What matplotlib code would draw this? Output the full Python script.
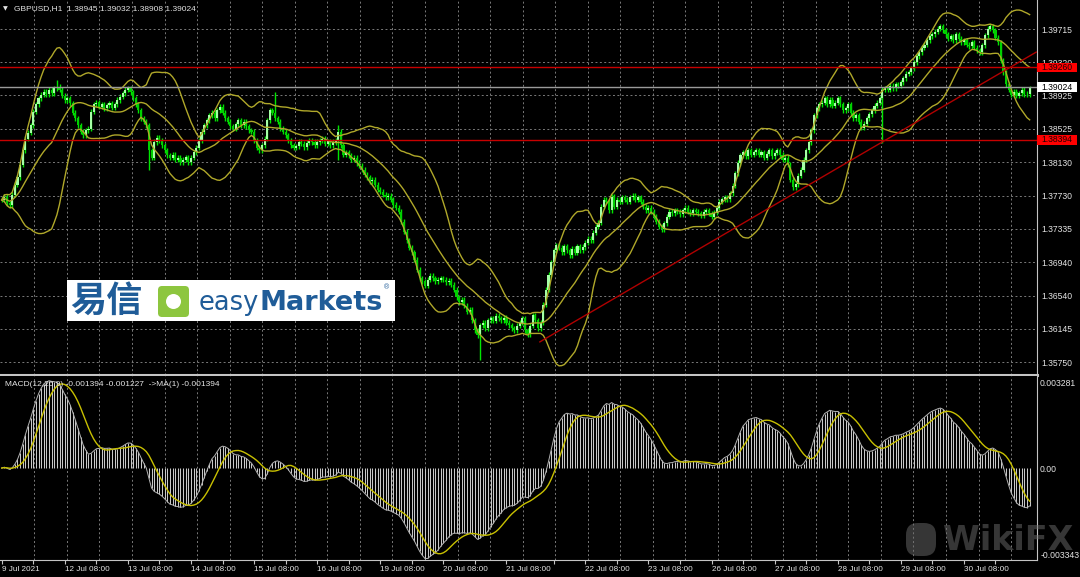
import numpy as np
import pandas as pd
import matplotlib
matplotlib.use('Agg')
import matplotlib.pyplot as plt
from matplotlib.patches import Rectangle, FancyBboxPatch, Circle
from matplotlib.transforms import blended_transform_factory

plt.rcParams['font.family'] = ['Liberation Sans', 'DejaVu Sans']

# GBPUSD H1 closes, one per bar (9 Jul -> 30 Jul 2021)
closes = [
    1.3768, 1.3772, 1.3764, 1.3762, 1.3774, 1.3786, 1.3795, 1.3810, 1.3827, 1.3841, 1.3848, 1.3857,
    1.3873, 1.3882, 1.3889, 1.3893, 1.3897, 1.3894, 1.3899, 1.3895, 1.3901, 1.3903, 1.3899, 1.3892,
    1.3887, 1.3889, 1.3883, 1.3872, 1.3865, 1.3857, 1.3849, 1.3845, 1.3851, 1.3853, 1.3873, 1.3882,
    1.3884, 1.3879, 1.3882, 1.3877, 1.3881, 1.3883, 1.3878, 1.3882, 1.3887, 1.3891, 1.3895, 1.3899,
    1.3901, 1.3896, 1.3889, 1.3882, 1.3875, 1.3865, 1.3861, 1.3857, 1.3827, 1.3818, 1.3837, 1.3842,
    1.3839, 1.3833, 1.3827, 1.3821, 1.3818, 1.3822, 1.3816, 1.3818, 1.3813, 1.3816, 1.3819, 1.3813,
    1.3818, 1.3825, 1.3830, 1.3839, 1.3849, 1.3857, 1.3863, 1.3869, 1.3872, 1.3865, 1.3875, 1.3879,
    1.3872, 1.3865, 1.3861, 1.3856, 1.3853, 1.3858, 1.3863, 1.3857, 1.3861, 1.3856, 1.3851, 1.3849,
    1.3839, 1.3830, 1.3827, 1.3833, 1.3841, 1.3863, 1.3875, 1.3872, 1.3865, 1.3861, 1.3853, 1.3849,
    1.3845, 1.3839, 1.3833, 1.3830, 1.3832, 1.3837, 1.3835, 1.3831, 1.3836, 1.3839, 1.3837, 1.3833,
    1.3837, 1.3839, 1.3841, 1.3835, 1.3838, 1.3833, 1.3837, 1.3839, 1.3849, 1.3833, 1.3822, 1.3825,
    1.3821, 1.3816, 1.3818, 1.3812, 1.3809, 1.3804, 1.3798, 1.3795, 1.3790, 1.3792, 1.3786, 1.3780,
    1.3778, 1.3774, 1.3771, 1.3773, 1.3768, 1.3762, 1.3759, 1.3754, 1.3742, 1.3730, 1.3720, 1.3711,
    1.3706, 1.3697, 1.3685, 1.3675, 1.3671, 1.3666, 1.3673, 1.3678, 1.3675, 1.3671, 1.3673, 1.3675,
    1.3673, 1.3670, 1.3672, 1.3667, 1.3661, 1.3652, 1.3646, 1.3649, 1.3642, 1.3635, 1.3637, 1.3625,
    1.3613, 1.3607, 1.3619, 1.3622, 1.3615, 1.3625, 1.3627, 1.3624, 1.3630, 1.3627, 1.3625, 1.3628,
    1.3622, 1.3619, 1.3615, 1.3613, 1.3618, 1.3622, 1.3627, 1.3613, 1.3608, 1.3618, 1.3631, 1.3625,
    1.3615, 1.3622, 1.3643, 1.3661, 1.3679, 1.3694, 1.3708, 1.3714, 1.3711, 1.3706, 1.3713, 1.3708,
    1.3702, 1.3710, 1.3705, 1.3713, 1.3708, 1.3712, 1.3717, 1.3722, 1.3720, 1.3729, 1.3736, 1.3741,
    1.3760, 1.3768, 1.3766, 1.3756, 1.3772, 1.3760, 1.3768, 1.3766, 1.3771, 1.3768, 1.3766, 1.3771,
    1.3773, 1.3768, 1.3771, 1.3766, 1.3760, 1.3756, 1.3759, 1.3754, 1.3748, 1.3742, 1.3736, 1.3733,
    1.3740, 1.3748, 1.3754, 1.3752, 1.3756, 1.3754, 1.3751, 1.3756, 1.3759, 1.3754, 1.3752, 1.3756,
    1.3754, 1.3752, 1.3749, 1.3754, 1.3756, 1.3752, 1.3748, 1.3753, 1.3759, 1.3766, 1.3769, 1.3771,
    1.3769, 1.3776, 1.3785, 1.3800, 1.3812, 1.3821, 1.3825, 1.3820, 1.3827, 1.3822, 1.3825, 1.3827,
    1.3822, 1.3825, 1.3818, 1.3823, 1.3827, 1.3820, 1.3824, 1.3827, 1.3822, 1.3816, 1.3818, 1.3810,
    1.3792, 1.3783, 1.3787, 1.3797, 1.3804, 1.3816, 1.3827, 1.3837, 1.3851, 1.3869, 1.3877, 1.3882,
    1.3884, 1.3889, 1.3882, 1.3887, 1.3880, 1.3884, 1.3889, 1.3882, 1.3875, 1.3877, 1.3882, 1.3872,
    1.3865, 1.3869, 1.3861, 1.3854, 1.3859, 1.3865, 1.3870, 1.3875, 1.3880, 1.3884, 1.3889, 1.3899,
    1.3901, 1.3899, 1.3904, 1.3901, 1.3906, 1.3904, 1.3908, 1.3913, 1.3918, 1.3920, 1.3925, 1.3932,
    1.3939, 1.3944, 1.3949, 1.3953, 1.3958, 1.3963, 1.3965, 1.3968, 1.3972, 1.3975, 1.3970, 1.3965,
    1.3960, 1.3963, 1.3958, 1.3965, 1.3960, 1.3956, 1.3958, 1.3953, 1.3951, 1.3956, 1.3949, 1.3946,
    1.3944, 1.3952, 1.3964, 1.3972, 1.3975, 1.3970, 1.3961, 1.3956, 1.3934, 1.3920, 1.3906, 1.3899,
    1.3893, 1.3897, 1.3892, 1.3895, 1.3899, 1.3894, 1.38945, 1.39024,
]

# long wicks seen on the chart: bar -> high / low
long_highs = {21: 1.3911, 104: 1.3897, 128: 1.3857, 391: 1.39032}
long_lows = {56: 1.3804, 128: 1.3815, 182: 1.3577, 335: 1.3836, 391: 1.38908}

price_ticks = [1.39715, 1.39320, 1.38925, 1.38525, 1.38130, 1.37730,
               1.37335, 1.36940, 1.36540, 1.36145, 1.35750]
hlines_red = [1.39260, 1.38394]
bid = 1.39024
trend_bars = [204.7, 393.5]
trend_prices = [1.3599, 1.3944]

macd_ticks = [0.003281, 0.0, -0.003343]
macd_ticklabels = ['0.003281', '0.00', '-0.003343']

time_ticks = [0, 24, 48, 72, 96, 120, 144, 168, 192, 222, 246, 270, 294, 318, 342, 366]
time_minor = [12, 36, 60, 84, 108, 132, 156, 180, 210, 234, 258, 282, 306, 330, 354, 378]
time_labels = ['9 Jul 2021', '12 Jul 08:00', '13 Jul 08:00', '14 Jul 08:00', '15 Jul 08:00',
               '16 Jul 08:00', '19 Jul 08:00', '20 Jul 08:00', '21 Jul 08:00', '22 Jul 08:00',
               '23 Jul 08:00', '26 Jul 08:00', '27 Jul 08:00', '28 Jul 08:00', '29 Jul 08:00',
               '30 Jul 08:00']

# ---- candles + indicators ----
c = pd.Series(closes)
o = c.shift(1).fillna(c.iloc[0])
hi = np.maximum(o, c) + 0.0003
lo = np.minimum(o, c) - 0.0003
for k, v in long_highs.items():
    hi[k] = v
for k, v in long_lows.items():
    lo[k] = v
bars = np.arange(len(c))

mid = c.rolling(20, min_periods=1).mean()
sd = c.rolling(20, min_periods=1).std(ddof=0)
upper = mid + 2 * sd
lower = mid - 2 * sd

macd = c.ewm(span=12, adjust=False).mean() - c.ewm(span=26, adjust=False).mean()
signal = macd.rolling(9, min_periods=1).mean()

# ---- layout (pixels of the 1080x577 screen) ----
W, H = 1080, 577
px_bar = 2.629
x0 = 1.7
right_px = 1036.5
fig = plt.figure(figsize=(W / 100, H / 100), dpi=100)
fig.patch.set_facecolor('black')

ax = fig.add_axes([0, 1 - 375 / H, right_px / W, 375 / H])
axm = fig.add_axes([0, 1 - 560 / H, right_px / W, (560 - 376) / H])

xlim = (-x0 / px_bar, (right_px - x0) / px_bar)
ppu = 8400.0
ax.set_ylim(1.39715 - (375 - 29) / ppu, 1.39715 + 29 / ppu)
mk = 0.006624 / 172.3
axm.set_ylim(-0.003343 - 5 * mk, 0.003281 + 6.7 * mk)

grid_col = '#7a7a7a'
grid_ls = (0, (2, 2.5))
txt_col = '#e4e4e4'
border = '#c4c4c4'
vgrid = [(k * 32.56) / px_bar for k in range(1, 32)]

for a in (ax, axm):
    a.set_facecolor('black')
    a.set_xlim(*xlim)
    for g in vgrid:
        a.axvline(g, color=grid_col, lw=0.7, ls=grid_ls, zorder=0)
    for s in ('top', 'left'):
        a.spines[s].set_visible(False)
    a.spines['right'].set_color(border)
    a.spines['bottom'].set_color(border)
    a.yaxis.tick_right()

for p in price_ticks:
    ax.axhline(p, color=grid_col, lw=0.7, ls=grid_ls, zorder=0)

# candles
up = c >= o
body_lo = np.minimum(o, c)
body_h = np.maximum(np.abs(c - o), 0.00004)
ax.vlines(bars, lo, hi, color='#00e600', lw=1.0, zorder=2)
ax.bar(bars[up], body_h[up], bottom=body_lo[up], width=0.8, color='#a6ffa6', lw=0, zorder=2)
ax.bar(bars[~up], body_h[~up], bottom=body_lo[~up], width=0.8, color='#00d000', lw=0, zorder=2)

band_col = '#b0a82a'
ax.plot(bars, upper, color=band_col, lw=1, zorder=3)
ax.plot(bars, mid, color=band_col, lw=1, zorder=3)
ax.plot(bars, lower, color=band_col, lw=1, zorder=3)

for p in hlines_red:
    ax.axhline(p, color='#c80000', lw=1, zorder=4)
ax.axhline(bid, color='#9a9a9a', lw=1, zorder=4)
ax.plot(trend_bars, trend_prices, color='#b00000', lw=1, zorder=4)

ax.set_xticks([])
ax.set_yticks(price_ticks)
ax.set_yticklabels([f'{p:.5f}' for p in price_ticks])
ax.tick_params(axis='y', colors=txt_col, labelsize=6.2, length=0, pad=3.6)
ax.spines['bottom'].set_linewidth(2.2)

# price boxes on the right scale
tr = blended_transform_factory(ax.transAxes, ax.transData)
box_w = 39.5 / right_px
box_h = 9.4 / ppu
for p, fc, tc in [(hlines_red[0], '#ff0000', '#200000'),
                  (bid, '#ffffff', '#000000'),
                  (hlines_red[1], '#ff0000', '#200000')]:
    ax.add_patch(Rectangle((1.0008, p - box_h / 2), box_w, box_h, transform=tr,
                           facecolor=fc, edgecolor='none', clip_on=False, zorder=6))
    ax.text(1.0045, p, f'{p:.5f}', transform=tr, color=tc, fontsize=6.2,
            va='center', ha='left', clip_on=False, zorder=7)

# MACD panel
axm.vlines(bars, 0, macd, color='#c8c8c8', lw=0.75, zorder=2)
axm.plot(bars, macd, color='#b4b4b4', lw=0.7, zorder=2)
axm.plot(bars, signal, color='#c8c000', lw=1, zorder=3)
axm.set_yticks(macd_ticks)
axm.set_yticklabels(macd_ticklabels)
axm.tick_params(axis='y', colors=txt_col, labelsize=6.2, length=0, pad=2.6)
axm.set_xticks(time_ticks)
axm.set_xticks(time_minor, minor=True)
axm.set_xticklabels(time_labels)
for lab in axm.get_xticklabels():
    lab.set_ha('left')
axm.tick_params(axis='x', which='both', colors=border, labelcolor=txt_col,
                labelsize=5.9, direction='out', length=3, width=0.8, pad=1.5)

# ---- overlay: headers, logo, watermark ----
ov = fig.add_axes([0, 0, 1, 1], zorder=10)
ov.set_xlim(0, W)
ov.set_ylim(H, 0)
ov.axis('off')
ov.patch.set_alpha(0)

ov.text(3, 8.5, '\u25bc', color=txt_col, fontsize=4.5, va='center', ha='left',
        family=['DejaVu Sans'])
ov.text(14, 8.5, 'GBPUSD,H1  1.38945 1.39032 1.38908 1.39024', color=txt_col,
        fontsize=6.0, va='center', ha='left')
ov.text(5, 384, 'MACD(12,26,9) -0.001394 -0.001227  ->MA(1) -0.001394', color=txt_col,
        fontsize=6.0, va='center', ha='left')

blue = '#1f5c98'
ov.add_patch(Rectangle((66.7, 280), 328.3, 40.5, facecolor='white', edgecolor='none'))
ov.text(70, 301, '易信', color=blue, fontsize=26, fontweight='bold', va='center', ha='left',
        family=['Noto Sans CJK SC', 'DejaVu Sans'])
ov.add_patch(FancyBboxPatch((158, 286), 31, 31, boxstyle='round,pad=0,rounding_size=4',
                            facecolor='#8dc63f', edgecolor='none'))
ov.add_patch(Circle((173.5, 301.5), 7.5, facecolor='white', edgecolor='none'))
ov.text(199, 310, 'easy', color=blue, fontsize=18.5, va='baseline', ha='left',
        family=['DejaVu Sans'])
ov.text(259, 310, 'Markets', color=blue, fontsize=19.5, fontweight='bold', va='baseline',
        ha='left', family=['DejaVu Sans'])
ov.text(386, 288, '®', color=blue, fontsize=5, va='center', ha='center')

wm = '#6c6c6c'
ov.add_patch(FancyBboxPatch((906, 523), 30, 33, boxstyle='round,pad=0,rounding_size=12',
                            facecolor=wm, edgecolor='none', alpha=0.5))
ov.text(943, 541, 'WikiFX', color=wm, fontsize=24, fontweight='bold', va='center',
        ha='left', alpha=0.5, family=['DejaVu Sans'])

fig.savefig('out.png', dpi=100, facecolor=fig.get_facecolor())
